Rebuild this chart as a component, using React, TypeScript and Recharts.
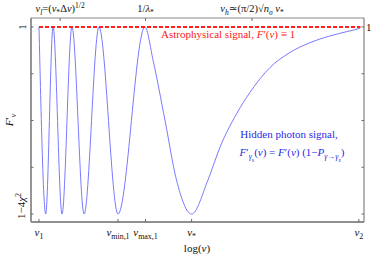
import React from 'react';
import { LineChart, Line, XAxis, YAxis } from 'recharts';

// x is log(nu) in arbitrary units: nu1 = 0, nu2 = 100
const curveX = [0, 2.1, 4.4, 7.2, 10.3, 14.1, 18.75, 24.7, 33.1, 35.7, 39.4, 43.0, 47.7, 52.8, 56.6, 61.8, 65.9, 69.1, 72.2, 78.4, 84.7, 90.9, 97.2, 100.3];
// F' normalised: 1 = top, 0 = 1-4chi^2
const hiddenSignal = [1, 0, 1, 0, 1, 0, 1, 0, 1, 0.819, 0.5, 0.181, 0, 0.181, 0.358, 0.537, 0.649, 0.723, 0.783, 0.863, 0.916, 0.952, 0.979, 0.993];

const astroX = [0, 100.5];
const astroSignal = [1, 1];

type Seg = [string, string]; // [text, kind] kind: n | i | sub | subi | ss | sup

const bottomTicks = [0, 24.7, 33.3, 47.7, 100];
const bottomLabels: Seg[][] = [
  [['ν', 'i'], ['1', 'sub']],
  [['ν', 'i'], ['min,1', 'sub']],
  [['ν', 'i'], ['max,1', 'sub']],
  [['ν', 'i'], ['*', 'sub']],
  [['ν', 'i'], ['2', 'sub']],
];

const topTicks = [6.6, 33.3, 66.6];
const topLabels: Seg[][] = [
  [['ν', 'i'], ['l', 'subi'], ['=(', 'n'], ['ν', 'i'], ['*', 'sub'], ['Δ', 'n'], ['ν', 'i'], [')', 'n'], ['1/2', 'sup']],
  [['1/', 'n'], ['λ', 'i'], ['*', 'sub']],
  [['ν', 'i'], ['h', 'subi'], ['≃(π/2)√', 'n'], ['n', 'i'], ['σ', 'subi'], [' ', 'n'], ['ν', 'i'], ['*', 'sub']],
];

const yTicks = [0, 0.25, 0.5, 0.75, 1];

const curveData = curveX.map((u, i) => ({ u, f: hiddenSignal[i] }));
const astroData = astroX.map((u, i) => ({ u, f: astroSignal[i] }));

const FONT = 'Liberation Serif, DejaVu Serif, serif';
const FRAME = '#6a6a6a';

function renderSegs(segs: Seg[], fs: number) {
  let cur = 0;
  return segs.map(([t, k], i) => {
    const target = k === 'ss' ? fs * 0.5 : k.startsWith('sub') ? fs * 0.3 : k === 'sup' ? -fs * 0.4 : 0;
    const dy = target - cur;
    cur = target;
    const size = k === 'ss' ? fs * 0.55 : k.startsWith('sub') || k === 'sup' ? fs * 0.72 : fs;
    return (
      <tspan key={i} dy={dy} fontSize={size} fontStyle={k.includes('i') || k === 'ss' ? 'italic' : 'normal'}>
        {t}
      </tspan>
    );
  });
}

const BottomTick = (props: any) => {
  const { x, y, payload } = props;
  const idx = bottomTicks.indexOf(payload.value);
  return (
    <g>
      <line x1={x} x2={x} y1={y} y2={y - 3} stroke={FRAME} />
      <text x={x} y={y + 14} textAnchor="middle" fontFamily={FONT} fill="#111">
        {idx >= 0 ? renderSegs(bottomLabels[idx], 11) : null}
      </text>
    </g>
  );
};

const TopTick = (props: any) => {
  const { x, y, payload } = props;
  const idx = topTicks.indexOf(payload.value);
  return (
    <g>
      <line x1={x} x2={x} y1={y} y2={y + 3} stroke={FRAME} />
      <text x={x} y={y - 6} textAnchor="middle" fontFamily={FONT} fill="#111">
        {idx >= 0 ? renderSegs(topLabels[idx], 10.5) : null}
      </text>
    </g>
  );
};

const LeftTick = (props: any) => {
  const { x, y, payload } = props;
  return (
    <g>
      <line x1={x} x2={x + 2.5} y1={y} y2={y} stroke={FRAME} />
      {payload.value === 1 && (
        <text x={x - 5} y={y} transform={`rotate(-90 ${x - 5} ${y})`} textAnchor="middle" fontFamily={FONT} fontSize={11} fill="#111">
          1
        </text>
      )}
      {payload.value === 0 && (
        <text x={x - 6} y={y + 5} transform={`rotate(-90 ${x - 6} ${y + 5})`} textAnchor="start" fontFamily={FONT} fill="#111">
          {renderSegs([['1−4', 'n'], ['χ', 'i'], ['2', 'sup']], 11)}
        </text>
      )}
    </g>
  );
};

const RightTick = (props: any) => {
  const { x, y, payload } = props;
  return (
    <g>
      <line x1={x} x2={x - 2.5} y1={y} y2={y} stroke={FRAME} />
      {payload.value === 1 && (
        <text x={x + 2} y={y + 4} textAnchor="start" fontFamily={FONT} fontSize={11} fill="#111">
          1
        </text>
      )}
    </g>
  );
};

const App = () => {
  return (
    <div style={{ position: 'absolute', left: 0, top: 0, width: 374, height: 256 }}>
      <LineChart width={374} height={256} margin={{ top: 0, right: 0, bottom: 0, left: 0 }}>
        <XAxis
          xAxisId={0}
          dataKey="u"
          type="number"
          domain={[-2.5, 101.6]}
          ticks={bottomTicks}
          interval={0}
          height={34}
          tickSize={0}
          tickMargin={0}
          tickLine={false}
          tick={<BottomTick />}
          axisLine={{ stroke: FRAME, strokeWidth: 1.3 }}
        />
        <XAxis
          xAxisId="top"
          orientation="top"
          dataKey="u"
          type="number"
          domain={[-2.5, 101.6]}
          ticks={topTicks}
          interval={0}
          height={18}
          tickSize={0}
          tickMargin={0}
          tickLine={false}
          tick={<TopTick />}
          axisLine={{ stroke: FRAME, strokeWidth: 0.8 }}
        />
        <YAxis
          yAxisId={0}
          type="number"
          domain={[-0.0426, 1.048]}
          ticks={yTicks}
          interval={0}
          width={31}
          tickSize={0}
          tickMargin={0}
          tickLine={false}
          tick={<LeftTick />}
          axisLine={{ stroke: '#8a8a8a', strokeWidth: 1.8 }}
        />
        <YAxis
          yAxisId="right"
          orientation="right"
          type="number"
          domain={[-0.0426, 1.048]}
          ticks={yTicks}
          interval={0}
          width={10}
          tickSize={0}
          tickMargin={0}
          tickLine={false}
          tick={<RightTick />}
          axisLine={{ stroke: FRAME, strokeWidth: 1 }}
        />
        <Line
          data={curveData}
          dataKey="f"
          type="monotone"
          stroke="#7a7aff"
          strokeWidth={1}
          dot={false}
          isAnimationActive={false}
        />
        <Line
          data={astroData}
          dataKey="f"
          type="linear"
          stroke="#ff2020"
          strokeWidth={2.2}
          strokeDasharray="4 2"
          dot={false}
          isAnimationActive={false}
        />
        <Line
          xAxisId="top"
          yAxisId="right"
          data={astroData}
          dataKey="f"
          stroke="none"
          strokeOpacity={0}
          dot={false}
          activeDot={false}
          isAnimationActive={false}
        />
      </LineChart>
      <svg width={374} height={256} style={{ position: 'absolute', left: 0, top: 0, pointerEvents: 'none' }}>
        <text x={161} y={38} fontFamily={FONT} fill="#ff2020">
          {renderSegs([['Astrophysical signal, ', 'n'], ['F', 'i'], ['′(', 'n'], ['ν', 'i'], [') ≡ 1', 'n']], 11)}
        </text>
        <text x={289} y={138} textAnchor="middle" fontFamily={FONT} fontSize={11} fill="#2a2ae6">
          Hidden photon signal,
        </text>
        <text x={292} y={156} textAnchor="middle" fontFamily={FONT} fill="#2a2ae6">
          {renderSegs([['F', 'i'], ['′', 'n'], ['γ', 'subi'], ['s', 'ss'], ['(', 'n'], ['ν', 'i'], [') = ', 'n'], ['F', 'i'], ['′(', 'n'], ['ν', 'i'], [') (1−', 'n'], ['P', 'i'], ['γ→γ', 'subi'], ['s', 'ss'], [')', 'n']], 11)}
        </text>
        <text x={197} y={252} textAnchor="middle" fontFamily={FONT} fill="#111">
          {renderSegs([['log(', 'n'], ['ν', 'i'], [')', 'n']], 11)}
        </text>
        <text x={13} y={120} transform="rotate(-90 13 120)" textAnchor="middle" fontFamily={FONT} fill="#111">
          {renderSegs([['F', 'i'], ['′', 'n'], ['ν', 'subi']], 11)}
        </text>
      </svg>
    </div>
  );
};

export default App;
